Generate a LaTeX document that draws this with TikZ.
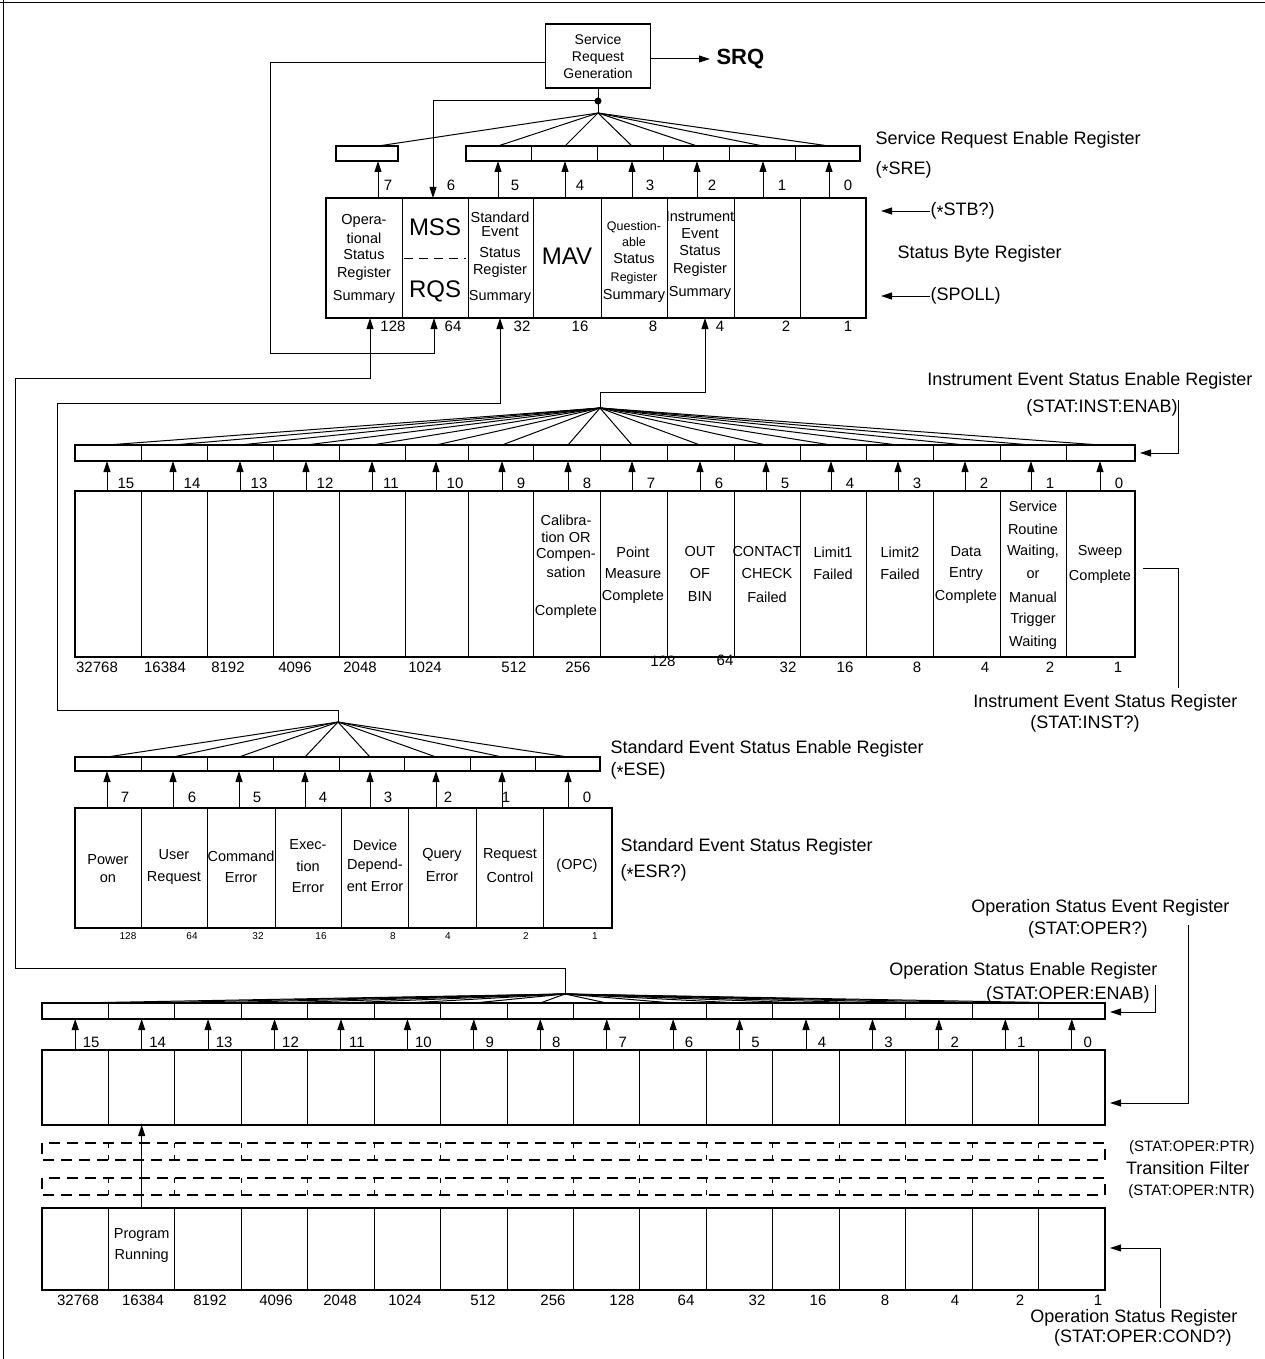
\documentclass[tikz,border=0pt]{standalone}
\usepackage{fontspec}
\setmainfont{Liberation Sans}
\usetikzlibrary{arrows.meta}
\newcommand{\stx}{\raisebox{-0.35ex}{*}}
\begin{document}
\begin{tikzpicture}[x=1pt,y=-1pt,line width=1pt,
  arr/.style={-{Triangle[length=11pt,width=7pt]}},
  reg/.style={draw,line width=1.3pt},
  dv/.style={line width=0.9pt},
  ct/.style={font=\fontsize{14.5}{16}\selectfont,inner sep=0pt},
  ctsm/.style={font=\fontsize{12.5}{14}\selectfont,inner sep=0pt},
  big/.style={font=\fontsize{24}{26}\selectfont,inner sep=0pt},
  num/.style={font=\fontsize{15}{17}\selectfont,inner sep=0pt},
  sml/.style={font=\fontsize{10}{12}\selectfont,inner sep=0pt},
  lbl/.style={font=\fontsize{18}{20}\selectfont,inner sep=0pt},
  lblsm/.style={font=\fontsize{15}{17}\selectfont,inner sep=0pt},
  fan/.style={line width=1pt},
  dsh/.style={line width=1.1pt,dash pattern=on 11pt off 7pt},
]
\useasboundingbox (0,0) rectangle (1265,1359);
\fill[white] (0,0) rectangle (1265,1359);
\draw[line width=0.8pt] (0,2) -- (1265,2);
\draw[line width=0.8pt] (3,0) -- (3,1359);

%% Service request generation
\node[draw,line width=1.1pt,minimum width=105pt,minimum height=64pt,align=center,
      font=\fontsize{14}{17}\selectfont,inner sep=0pt] (srg) at (598,56) {Service\\Request\\Generation};
\node[font=\bfseries\fontsize{22}{24}\selectfont,anchor=west,inner sep=0pt] (srq) at (716,59) {SRQ};
\coordinate (srqin) at (710,59);
\draw[arr] (srg.east |- srqin) -- (srqin);

\coordinate (fbA) at (545.5,63);
\coordinate (fbB) at (270,63);
\coordinate (fbC) at (270,353);
\coordinate (fbD) at (434,353);
\coordinate (sb64) at (434,318);
\draw[arr] (fbA) -- (fbB) -- (fbC) -- (fbD) -- (sb64);

\coordinate (dot) at (598,101);
\coordinate (sreapx) at (598,113);
\coordinate (sb6top) at (433,198);
\draw (srg.south) -- (sreapx);
\fill (dot) circle (3.5pt);
\draw[arr] (dot) -| (sb6top);

%% Service request enable register
\draw[reg] (336,146) rectangle (398,161);
\draw[reg] (466,146) rectangle (860,161);
\foreach \x in {531,597,663,729,795} \draw[dv] (\x,146) -- (\x,161);
\foreach \x in {378,498,565,632,697,763,829} {
  \draw[fan] (sreapx) -- (\x,146);
  \draw[arr] (\x,198) -- (\x,161);
}
\foreach \x/\n in {388/7,451/6,515/5,580/4,650/3,712/2,782/1,848/0} \node[num] (sren\n) at (\x,185) {\n};

%% Status byte register
\draw[reg] (326,198) rectangle (866,318);
\foreach \x in {402,468,533,601,667,734,800} \draw[dv] (\x,198) -- (\x,318);
\draw[dash pattern=on 9pt off 6pt] (404,258) -- (466,258);
\foreach \t/\y [count=\i] in {Opera-/221,tional/238,Status/255,Register/274,Summary/297} \node[ct] (sba\i) at (364,\y) {\t};
\node[big] (mss) at (435,227) {MSS};
\node[big] (rqs) at (435,291) {RQS};
\foreach \t/\y [count=\i] in {Standard/217,Event/232,Status/253,Register/271,Summary/297} \node[ct] (sbc\i) at (500,\y) {\t};
\node[big] (mav) at (567,256) {MAV};
\foreach \t/\y [count=\i] in {Question-/227,able/242} \node[ctsm] (sbe\i) at (634,\y) {\t};
\node[ct] (sbe3) at (634,259) {Status};
\node[ctsm] (sbe4) at (634,278) {Register};
\node[ct] (sbe5) at (634,296) {Summary};
\foreach \t/\y [count=\i] in {Instrument/217,Event/234,Status/251,Register/270,Summary/293} \node[ct] (sbf\i) at (700,\y) {\t};
\foreach \x/\v in {393/128,453/64,522/32,580/16,653/8,720/4,786/2,848/1} \node[num] (sbv\v) at (\x,326) {\v};

\node[lbl,anchor=west] (srel) at (875,140) {Service Request Enable Register};
\node[lbl,anchor=west] (sres) at (875,170) {(\stx SRE)};
\node[lbl,anchor=west] (stb) at (930,211) {(\stx STB?)};
\coordinate (stbend) at (881,211);
\draw[arr] (stb.west) -- (stbend);
\node[lbl,anchor=west] (sbrl) at (897,254) {Status Byte Register};
\node[lbl,anchor=west] (spoll) at (930,296) {(SPOLL)};
\coordinate (spollend) at (881,296);
\draw[arr] (spoll.west) -- (spollend);

%% summary connections
\coordinate (sb128) at (370,318);
\coordinate (sb32) at (500,318);
\coordinate (sb4) at (705,318);
\coordinate (oapx) at (565,994);
\coordinate (sapx) at (338,722);
\coordinate (iapx) at (600,408);
\draw[arr] (oapx) -- (565,968) -- (15,968) -- (15,378) -- (370,378) -- (sb128);
\draw[arr] (sapx) -- (338,710) -- (57,710) -- (57,403) -- (500,403) -- (sb32);
\draw[arr] (iapx) -- (600,392) -- (705,392) -- (sb4);

%% Instrument event status enable register / register
\draw[reg] (75,445) rectangle (1135,461);
\draw[reg] (75,491) rectangle (1135,657);
\foreach \x in {141,207,273,339,405,468,533,600,667,734,800,866,933,1000,1066} {
  \draw[dv] (\x,445) -- (\x,461);
  \draw[dv] (\x,491) -- (\x,657);
}
\foreach \x/\n in {107/15,173/14,240/13,306/12,372/11,436/10,502/9,568/8,632/7,700/6,766/5,831/4,898/3,965/2,1031/1,1100/0} {
  \draw[fan] (iapx) -- (\x,445);
  \draw[arr] (\x,491) -- (\x,461);
  \node[num] (ib\n) at (\x+19,483) {\n};
}
\foreach \x/\y/\v in {97/667/32768,165/667/16384,228/667/8192,295/667/4096,360/667/2048,425/667/1024,514/667/512,578/667/256,663/661/128,725/660/64,788/667/32,845/667/16,917/667/8,985/667/4,1050/667/2,1118/667/1} \node[num] (iv\v) at (\x,\y) {\v};
\foreach \t/\y [count=\i] in {Calibra-/520,tion OR/537,Compen-/555,sation/572,Complete/612} \node[ct] (ic8-\i) at (566,\y) {\t};
\foreach \t/\y [count=\i] in {Point/552,Measure/574,Complete/597} \node[ct] (ic7-\i) at (633,\y) {\t};
\foreach \t/\y [count=\i] in {OUT/552,OF/574,BIN/597} \node[ct] (ic6-\i) at (700,\y) {\t};
\foreach \t/\y [count=\i] in {CONTACT/552,CHECK/574,Failed/597} \node[ct] (ic5-\i) at (767,\y) {\t};
\foreach \t/\y [count=\i] in {Limit1/552,Failed/574} \node[ct] (ic4-\i) at (833,\y) {\t};
\foreach \t/\y [count=\i] in {Limit2/552,Failed/574} \node[ct] (ic3-\i) at (900,\y) {\t};
\foreach \t/\y [count=\i] in {Data/552,Entry/574,Complete/597} \node[ct] (ic2-\i) at (966,\y) {\t};
\foreach \t/\y [count=\i] in {Service/506,Routine/529,{Waiting,}/552,or/575,Manual/597,Trigger/620,Waiting/643} \node[ct] (ic1-\i) at (1033,\y) {\t};
\foreach \t/\y [count=\i] in {Sweep/552,Complete/577} \node[ct] (ic0-\i) at (1100,\y) {\t};

\node[lbl,anchor=east] (iesel) at (1253,381) {Instrument Event Status Enable Register};
\node[lbl] (iesec) at (1102,408) {(STAT:INST:ENAB)};
\coordinate (ieseA) at (1178,400);
\coordinate (ieseB) at (1178,453);
\coordinate (ieseC) at (1140,453);
\draw[arr] (ieseA) -- (ieseB) -- (ieseC);
\coordinate (iesrA) at (1143,568);
\coordinate (iesrB) at (1178,568);
\coordinate (iesrC) at (1178,688);
\draw (iesrA) -- (iesrB) -- (iesrC);
\node[lbl,anchor=east] (iesrl) at (1238,703) {Instrument Event Status Register};
\node[lbl] (iesrc) at (1085,724) {(STAT:INST?)};

%% Standard event status enable register / register
\draw[reg] (75,757) rectangle (600,771);
\foreach \x in {141,207,273,339,404,470,535} \draw[dv] (\x,757) -- (\x,771);
\draw[reg] (75,808) rectangle (612,928);
\foreach \x in {141,207,275,341,408,476,543} \draw[dv] (\x,808) -- (\x,928);
\foreach \x/\n/\lx in {107/7/125,173/6/192,239/5/257,305/4/323,370/3/388,436/2/448,502/1/506,568/0/587} {
  \draw[fan] (sapx) -- (\x,757);
  \draw[arr] (\x,808) -- (\x,771);
  \node[num] (se\n) at (\lx,797) {\n};
}
\foreach \t/\y [count=\i] in {Power/860,on/879} \node[ct] (sc7-\i) at (108,\y) {\t};
\foreach \t/\y [count=\i] in {User/855,Request/878} \node[ct] (sc6-\i) at (174,\y) {\t};
\foreach \t/\y [count=\i] in {Command/856,Error/878} \node[ct] (sc5-\i) at (241,\y) {\t};
\foreach \t/\y [count=\i] in {Exec-/845,tion/866,Error/888} \node[ct] (sc4-\i) at (308,\y) {\t};
\foreach \t/\y [count=\i] in {Device/845,Depend-/866,ent Error/887} \node[ct] (sc3-\i) at (375,\y) {\t};
\foreach \t/\y [count=\i] in {Query/855,Error/877} \node[ct] (sc2-\i) at (442,\y) {\t};
\foreach \t/\y [count=\i] in {Request/855,Control/877} \node[ct] (sc1-\i) at (510,\y) {\t};
\node[ct] (sc0) at (577,866) {(OPC)};
\foreach \x/\v in {128/128,192/64,258/32,321/16,393/8,448/4,526/2,595/1} \node[sml] (sv\v) at (\x,936) {\v};
\node[lbl,anchor=west] (sesel) at (610,749) {Standard Event Status Enable Register};
\node[lbl,anchor=west] (sesec) at (610,771) {(\stx ESE)};
\node[lbl,anchor=west] (sesrl) at (620,847) {Standard Event Status Register};
\node[lbl,anchor=west] (sesrc) at (620,873) {(\stx ESR?)};

%% Operation status registers
\draw[reg] (42,1003) rectangle (1105,1019);
\draw[reg] (42,1050) rectangle (1105,1125);
\draw[reg] (42,1208) rectangle (1105,1290);
\draw[dsh] (42,1143) rectangle (1105,1160);
\draw[dsh] (42,1178) rectangle (1105,1195);
\foreach \i in {1,...,15} {
  \pgfmathsetmacro\x{42+66.4375*\i}
  \draw[dv] (\x,1003) -- (\x,1019);
  \draw[dv] (\x,1050) -- (\x,1125);
  \draw[dv] (\x,1208) -- (\x,1290);
  \draw[dv] (\x,1143) -- (\x,1148);
  \draw[dv] (\x,1160) -- (\x,1155);
  \draw[dv] (\x,1178) -- (\x,1183);
  \draw[dv] (\x,1195) -- (\x,1190);
}
\foreach \i/\n in {0/15,1/14,2/13,3/12,4/11,5/10,6/9,7/8,8/7,9/6,10/5,11/4,12/3,13/2,14/1,15/0} {
  \pgfmathsetmacro\x{42+66.4375*(\i+0.5)}
  \draw[fan] (oapx) -- (\x,1003);
  \draw[arr] (\x,1050) -- (\x,1019);
  \node[num] (ob\n) at (\x+16,1042) {\n};
}
\coordinate (osr14) at (141.7,1208);
\coordinate (oser14) at (141.7,1125);
\draw[arr] (osr14) -- (oser14);
\foreach \t/\y [count=\i] in {Program/1235,Running/1256} \node[ct] (oc14-\i) at (141.7,\y) {\t};
\foreach \x/\v in {78/32768,143/16384,210/8192,276/4096,340/2048,405/1024,483/512,553/256,622/128,686/64,757/32,818/16,885/8,955/4,1020/2,1098/1} \node[num] (ov\v) at (\x,1300) {\v};

\node[lbl,anchor=east] (oserl) at (1230,908) {Operation Status Event Register};
\node[lbl,anchor=east] (oserc) at (1148,930) {(STAT:OPER?)};
\coordinate (oserA) at (1188,925);
\coordinate (oserB) at (1188,1103);
\coordinate (oserC) at (1110,1103);
\draw[arr] (oserA) -- (oserB) -- (oserC);
\node[lbl,anchor=east] (osenl) at (1158,971) {Operation Status Enable Register};
\node[lbl,anchor=east] (osenc) at (1150,995) {(STAT:OPER:ENAB)};
\coordinate (osenA) at (1155,985);
\coordinate (osenB) at (1155,1012);
\coordinate (osenC) at (1110,1012);
\draw[arr] (osenA) -- (osenB) -- (osenC);
\node[lblsm,anchor=east] (ptr) at (1255,1148) {(STAT:OPER:PTR)};
\node[lbl,anchor=east] (tf) at (1250,1168) {Transition Filter};
\node[lblsm,anchor=east] (ntr) at (1255,1192) {(STAT:OPER:NTR)};
\node[lbl,anchor=east] (osrl) at (1238,1318) {Operation Status Register};
\node[lbl,anchor=east] (osrc) at (1232,1338) {(STAT:OPER:COND?)};
\coordinate (osrA) at (1160,1308);
\coordinate (osrB) at (1160,1248);
\coordinate (osrC) at (1110,1248);
\draw[arr] (osrA) -- (osrB) -- (osrC);
\end{tikzpicture}
\end{document}
